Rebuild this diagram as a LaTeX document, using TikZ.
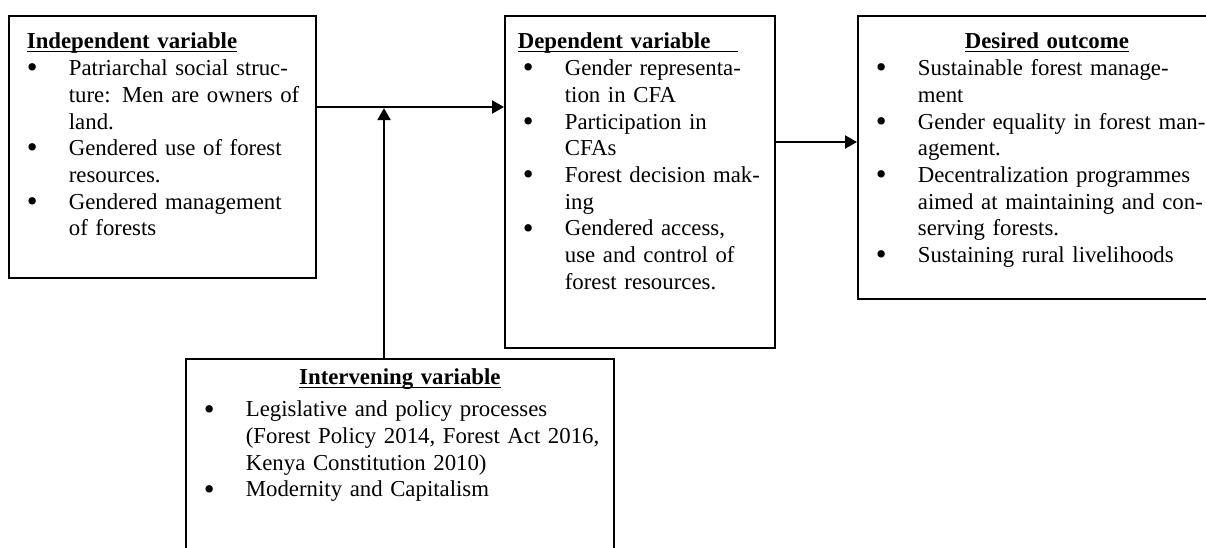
\documentclass[tikz,border=0pt]{standalone}
\usepackage{fontspec}
\setmainfont{Liberation Serif}
\usetikzlibrary{arrows.meta}

\newcommand{\uhead}[1]{\sbox0{\textbf{#1}}\usebox0\llap{\rule[-1.5pt]{\wd0}{0.6pt}}}
\newcommand{\bitem}[1]{\makebox[21pt][l]{\raisebox{-1.1pt}{\scalebox{1.35}{\textbullet}}}\mbox{#1}}
\newcommand{\citem}[1]{\hspace*{21pt}\mbox{#1}}

\begin{document}
\begin{tikzpicture}[x=0.5pt,y=-0.5pt,
  varbox/.style={draw, line width=0.9pt, anchor=north west, inner xsep=9pt, inner ysep=0pt,
    align=left, font=\fontsize{11.4}{13.35}\selectfont},
  arr/.style={line width=1.1pt, -{Triangle[length=6pt,width=6.5pt]}}]
  \useasboundingbox (0,0) rectangle (1206,547);

  \node[varbox, text width=135.5pt, text height=16.5pt, text depth=114.5pt] (indep) at (8,15) {%
    \uhead{Independent variable}\\
    \bitem{Patriarchal social struc-}\\
    \citem{ture: Men are owners of}\\
    \citem{land.}\\
    \bitem{Gendered use of forest}\\
    \citem{resources.}\\
    \bitem{Gendered management}\\
    \citem{of forests}};

  \node[varbox, text width=117pt, text height=16.5pt, text depth=149.5pt] (dep) at (504,15) {%
    \hspace*{-2.5pt}\uhead{Dependent variable\hspace{14pt}}\\
    \bitem{Gender representa-}\\
    \citem{tion in CFA}\\
    \bitem{Participation in}\\
    \citem{CFAs}\\
    \bitem{Forest decision mak-}\\
    \citem{ing}\\
    \bitem{Gendered access,}\\
    \citem{use and control of}\\
    \citem{forest resources.}};

  \node[varbox, text width=171pt, text height=16.5pt, text depth=125pt] (outcome) at (857,15) {%
    \makebox[\hsize]{\uhead{Desired outcome}}\\
    \bitem{Sustainable forest manage-}\\
    \citem{ment}\\
    \bitem{Gender equality in forest man-}\\
    \citem{agement.}\\
    \bitem{Decentralization programmes}\\
    \citem{aimed at maintaining and con-}\\
    \citem{serving forests.}\\
    \bitem{Sustaining rural livelihoods}};

  \node[varbox, text width=196pt, text height=13pt, text depth=108pt] (interv) at (185,358) {%
    \makebox[\hsize]{\uhead{Intervening variable}}\\[2.6pt]
    \bitem{Legislative and policy processes}\\
    \citem{(Forest Policy 2014, Forest Act 2016,}\\
    \citem{Kenya Constitution 2010)}\\
    \bitem{Modernity and Capitalism}};

  % arrows
  \coordinate (meet) at (384,107);
  \coordinate (link) at (815,142);
  \draw[arr] (indep.east |- meet) -- (dep.west |- meet);
  \draw[arr] (interv.north -| meet) -- ([yshift=-0.55pt]meet);
  \draw[arr] (dep.east |- link) -- (outcome.west |- link);
\end{tikzpicture}
\end{document}
